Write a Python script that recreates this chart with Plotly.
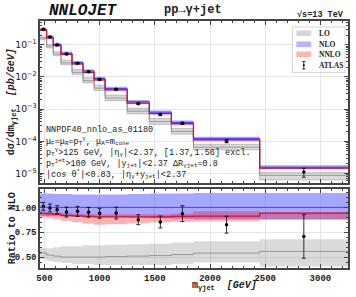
import plotly.graph_objects as go

# ---------------- data ----------------
edges = [460, 520, 580, 650, 750, 850, 950, 1050, 1250, 1450, 1650, 1850, 2450, 3250]
nlo_xs = [0.30, 0.175, 0.102, 0.0545, 0.0279, 0.0153, 0.00898, 0.00437,
          0.00169, 8.0e-4, 3.85e-4, 1.21e-4, 1.55e-5]
# ratios to NLO
nlo_up = [1.14, 1.14, 1.135, 1.135, 1.13, 1.13, 1.13, 1.13, 1.135, 1.14, 1.14, 1.145, 1.145]
nlo_dn = [0.915, 0.91, 0.91, 0.905, 0.905, 0.90, 0.90, 0.90, 0.895, 0.89, 0.885, 0.88, 0.875]
nnlo_c = [0.94, 0.935, 0.93, 0.92, 0.915, 0.91, 0.905, 0.905, 0.905, 0.905, 0.91, 0.912, 0.942]
nnlo_up = [0.955, 0.952, 0.948, 0.943, 0.938, 0.934, 0.93, 0.93, 0.93, 0.932, 0.935, 0.96, 0.952]
nnlo_dn = [0.90, 0.89, 0.88, 0.865, 0.85, 0.835, 0.825, 0.83, 0.84, 0.85, 0.855, 0.86, 0.882]
lo_c = [0.54, 0.52, 0.51, 0.50, 0.50, 0.50, 0.50, 0.505, 0.51, 0.515, 0.525, 0.54, 0.557]
lo_up = [0.59, 0.59, 0.60, 0.61, 0.61, 0.62, 0.62, 0.625, 0.63, 0.635, 0.645, 0.658, 0.68]
lo_dn = [0.48, 0.46, 0.45, 0.44, 0.43, 0.43, 0.42, 0.42, 0.42, 0.42, 0.43, 0.446, 0.406]

atlas_x = [490, 550, 615, 700, 800, 900, 1000, 1150, 1350, 1550, 1750, 2150, 2850]
atlas_xs = [0.303, 0.174, 0.0997, 0.052, 0.0268, 0.01453, 0.00844, 0.00412,
            0.00148, 6.82e-4, 3.61e-4, 1.0e-4, 1.1e-5]
atlas_ratio = [1.01, 0.994, 0.977, 0.953, 0.96, 0.95, 0.94, 0.943, 0.876, 0.853, 0.937, 0.826, 0.708]
atlas_ratio_err = [0.04, 0.04, 0.04, 0.05, 0.05, 0.05, 0.05, 0.06, 0.05, 0.06, 0.08, 0.085, 0.22]

x_ticks = [500, 1000, 1500, 2000, 2500, 3000]
ratio_ticks = [0.50, 0.75, 1.00]

# ---------------- geometry ----------------
W, H = 356, 297
ML, MR, MT, MB = 40, 6, 21, 29
PW, PH = W - ML - MR, H - MT - MB
def px(x):
    return (x - ML) / PW
def py(y):
    return (H - MB - y) / PH

MONO = "Liberation Mono"
fig = go.Figure()

def step(vals):
    return list(vals) + [vals[-1]]

def band(lo, hi, color, xa, ya, edge=None):
    fig.add_trace(go.Scatter(x=edges, y=step(lo), mode="lines", line_shape="hv",
                             line=dict(width=0.6 if edge else 0, color=edge or color),
                             showlegend=False, hoverinfo="skip", xaxis=xa, yaxis=ya))
    fig.add_trace(go.Scatter(x=edges, y=step(hi), mode="lines", line_shape="hv",
                             fill="tonexty", fillcolor=color,
                             line=dict(width=0.6 if edge else 0, color=edge or color),
                             showlegend=False, hoverinfo="skip", xaxis=xa, yaxis=ya))

def line(vals, color, width, xa, ya):
    fig.add_trace(go.Scatter(x=edges, y=step(vals), mode="lines", line_shape="hv",
                             line=dict(width=width, color=color),
                             showlegend=False, hoverinfo="skip", xaxis=xa, yaxis=ya))

GRAY_F = "rgba(150,150,150,0.35)"
BLUE_F = "rgba(60,60,255,0.45)"
RED_F = "rgba(255,0,0,0.3)"

# ---- top panel ----
mul = lambda r: [n * v for n, v in zip(nlo_xs, r)]
band(mul(lo_dn), mul(lo_up), GRAY_F, "x", "y", edge="rgba(140,140,140,0.8)")
line(mul(lo_c), "#888888", 0.8, "x", "y")
band(mul(nlo_dn), mul(nlo_up), BLUE_F, "x", "y")
line(nlo_xs, "#4040ff", 1.0, "x", "y")
band(mul(nnlo_dn), mul(nnlo_up), RED_F, "x", "y")
line(mul(nnlo_c), "#d0103a", 1.3, "x", "y")
fig.add_trace(go.Scatter(x=atlas_x, y=atlas_xs, mode="markers",
                         marker=dict(size=3.5, color="black"),
                         error_y=dict(type="data",
                                      array=[v * e / r for v, e, r in zip(atlas_xs, atlas_ratio_err, atlas_ratio)],
                                      color="black", thickness=0.8, width=2),
                         showlegend=False, xaxis="x", yaxis="y"))

# ---- ratio panel ----
band(lo_dn, lo_up, GRAY_F, "x2", "y2")
line(lo_c, "#888888", 0.8, "x2", "y2")
band(nlo_dn, nlo_up, BLUE_F, "x2", "y2")
line([1.0] * len(nlo_xs), "#4040ff", 1.0, "x2", "y2")
band(nnlo_dn, nnlo_up, RED_F, "x2", "y2")
line(nnlo_c, "#d0103a", 1.3, "x2", "y2")
fig.add_trace(go.Scatter(x=atlas_x, y=atlas_ratio, mode="markers",
                         marker=dict(size=3.5, color="black"),
                         error_y=dict(type="data", array=atlas_ratio_err,
                                      color="black", thickness=0.8, width=2),
                         showlegend=False, xaxis="x2", yaxis="y2"))

top_lo = py(183)
rat_hi = py(189)
axcommon = dict(showline=True, linecolor="#444444", linewidth=1.5, mirror="ticks",
                ticks="inside", ticklen=4, tickcolor="#444444",
                gridcolor="#e6e6e6", gridwidth=0.8, zeroline=False)
fig.update_layout(
    width=W, height=H, margin=dict(l=ML, r=MR, t=MT, b=MB),
    paper_bgcolor="white", plot_bgcolor="white",
    xaxis=dict(domain=[0, 1], range=[460, 3250], anchor="y", tickvals=x_ticks,
               showticklabels=False,
               minor=dict(ticks="inside", ticklen=2, dtick=100, tickcolor="#444444"),
               **axcommon),
    yaxis=dict(domain=[top_lo, 1], type="log", range=[-5.3, -0.258], anchor="x",
               dtick=1, exponentformat="power",
               tickfont=dict(family="DejaVu Sans", size=7.5, color="#222"),
               minor=dict(ticks="inside", ticklen=2, dtick="D1", tickcolor="#444444"),
               **axcommon),
    xaxis2=dict(domain=[0, 1], range=[460, 3250], anchor="y2", matches="x",
                tickvals=x_ticks,
                tickfont=dict(family=MONO, size=9, color="#222", weight="bold"),
                minor=dict(ticks="inside", ticklen=2, dtick=100, tickcolor="#444444"),
                **axcommon),
    yaxis2=dict(domain=[0, rat_hi], range=[0.39, 1.185], anchor="x2",
                tickvals=ratio_ticks, tickformat=".2f",
                tickfont=dict(family=MONO, size=9, color="#222", weight="bold"),
                minor=dict(ticks="inside", ticklen=2, dtick=0.05, tickcolor="#444444"),
                **axcommon),
)

ann = []
def text(x, y, s, size, family=MONO, xanchor="left", angle=0, bold=False, italic=False, color="#222"):
    ann.append(dict(x=px(x), y=py(y), xref="paper", yref="paper", text=s, showarrow=False,
                    xanchor=xanchor, yanchor="middle", textangle=angle,
                    font=dict(family=family, size=size, color=color,
                              weight="bold" if bold else "normal",
                              style="italic" if italic else "normal")))

text(47, 11, "NNLOJET", 16, bold=True, italic=True, color="#111")
text(163, 10, "pp→γ+jet", 12, bold=True)
text(348, 15, "√s=13 TeV", 8.5, xanchor="right", bold=True)

info = ["NNPDF40_nnlo_as_01180",
        "μ<sub>F</sub>=μ<sub>R</sub>=p<sub>T</sub><sup>γ</sup>, μ<sub>A</sub>=m<sub>cone</sub>",
        "p<sub>T</sub><sup>γ</sup>>125 GeV, |η<sub>γ</sub>|&lt;2.37, [1.37,1.56] excl.",
        "p<sub>T</sub><sup>jet</sup>>100 GeV, |y<sub>jet</sub>|&lt;2.37 ΔR<sub>γjet</sub>=0.8",
        "|cos θ<sup>*</sup>|&lt;0.83, |η<sub>γ</sub>+y<sub>jet</sub>|&lt;2.37"]
for i, s in enumerate(info):
    text(44, 129.5 + 11.2 * i, s, 8.5)

text(12, 102, "dσ/dm<sub>γjet</sub>  <i>[pb/GeV]</i>", 10, xanchor="center", angle=-90, bold=True)
text(12, 228, "Ratio to NLO", 10, xanchor="center", angle=-90, bold=True)
text(226, 286, "m<sub>γjet</sub>  <i>[GeV]</i>", 10, xanchor="center", bold=True)

# legend
shapes = []
def rect(x0, y0, x1, y1, fill, line="rgba(0,0,0,0)", lw=0):
    shapes.append(dict(type="rect", xref="paper", yref="paper", x0=px(x0), x1=px(x1),
                       y0=py(y1), y1=py(y0), fillcolor=fill, line=dict(color=line, width=lw)))
rect(294, 27, 347, 72.5, "rgba(255,255,255,0.85)", "#cccccc", 0.8)
rect(298, 30.5, 313, 36, "#d6d6d6")
rect(298, 41.5, 313, 47, "#b4b4ff")
rect(298, 51.5, 313, 57, "#ffb4b4")
for (x0, y0, x1, y1) in [(305.5, 61.5, 305.5, 69), (304, 61.5, 307, 61.5), (304, 69, 307, 69)]:
    shapes.append(dict(type="line", xref="paper", yref="paper", x0=px(x0), x1=px(x1),
                       y0=py(y0), y1=py(y1), line=dict(color="black", width=0.8)))
shapes.append(dict(type="circle", xref="paper", yref="paper", x0=px(304.5), x1=px(306.5),
                   y0=py(66.2), y1=py(64.2), fillcolor="black", line=dict(width=0)))
for s, y in [("LO", 33.3), ("NLO", 44.3), ("NNLO", 54.3), ("ATLAS", 65)]:
    text(319, y, s, 7.5, family="Liberation Serif", bold=True)

fig.update_layout(annotations=ann, shapes=shapes)
fig.write_html("out.html", config={"displayModeBar": False},
               post_script="document.body.style.margin='0px';document.body.style.overflow='hidden';")
